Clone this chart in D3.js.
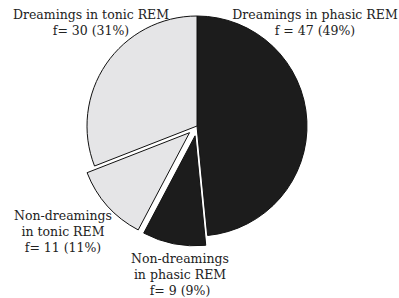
<!DOCTYPE html>
<html>
<head>
<meta charset="utf-8">
<script src="https://cdn.jsdelivr.net/npm/d3@7"></script>
<style>
  body { margin: 0; background: #fff; }
  svg { display: block; }
  text { font-family: "DejaVu Serif", serif; font-size: 12.5px; fill: #222; }
</style>
</head>
<body>
<div id="chart"></div>
<script>
'use strict'

// slices, clockwise from 12 o'clock
const categories = ['Dreamings in phasic REM', 'Non-dreamings in phasic REM', 'Non-dreamings in tonic REM', 'Dreamings in tonic REM']
const counts = [47, 9, 11, 30]
const percents = [49, 9, 11, 31]
const labelLines = [
  ['Dreamings in phasic REM', 'f = 47 (49%)'],
  ['Non-dreamings', 'in phasic REM', 'f= 9 (9%)'],
  ['Non-dreamings', 'in tonic REM', 'f= 11 (11%)'],
  ['Dreamings in tonic REM', 'f= 30 (31%)']
]
const exploded = [false, true, true, false]

// layout
const width = 399
const height = 298
const cx = 197
const cy = 126
const radius = 110
const explode = 10
const lineH = 16
const labelPos = [
  { x: 315, y: 19 },
  { x: 180, y: 263 },
  { x: 63, y: 220 },
  { x: 91, y: 19 }
]
const colors = ['#1c1c1c', '#1c1c1c', '#e5e5e7', '#e5e5e7']

const svg = d3.select('#chart')
  .append('svg')
  .attr('width', width)
  .attr('height', height)

const pie = d3.pie().sort(null).value(d => d)
const arc = d3.arc().innerRadius(0).outerRadius(radius)
const arcs = pie(counts)

const g = svg.append('g')
  .attr('transform', 'translate(' + cx + ' ' + cy + ')')

g.selectAll('path')
  .data(arcs)
  .enter()
  .append('path')
  .attr('d', arc)
  .attr('transform', (d, i) => {
    if (!exploded[i]) return null
    const a = (d.startAngle + d.endAngle) / 2
    return 'translate(' + (Math.sin(a) * explode) + ' ' + (-Math.cos(a) * explode) + ')'
  })
  .attr('fill', (d, i) => colors[i])
  .attr('stroke', '#111')
  .attr('stroke-width', 1)
  .attr('stroke-linejoin', 'miter')

const labels = svg.selectAll('text.lbl')
  .data(categories)
  .enter()
  .append('text')
  .attr('class', 'lbl')
  .attr('text-anchor', 'middle')
  .attr('x', (d, i) => labelPos[i].x)
  .attr('y', (d, i) => labelPos[i].y)

labels.selectAll('tspan')
  .data((d, i) => labelLines[i].map(t => ({ t: t, x: labelPos[i].x })))
  .enter()
  .append('tspan')
  .attr('x', d => d.x)
  .attr('dy', (d, j) => j === 0 ? 0 : lineH)
  .text(d => d.t)
</script>
</body>
</html>
